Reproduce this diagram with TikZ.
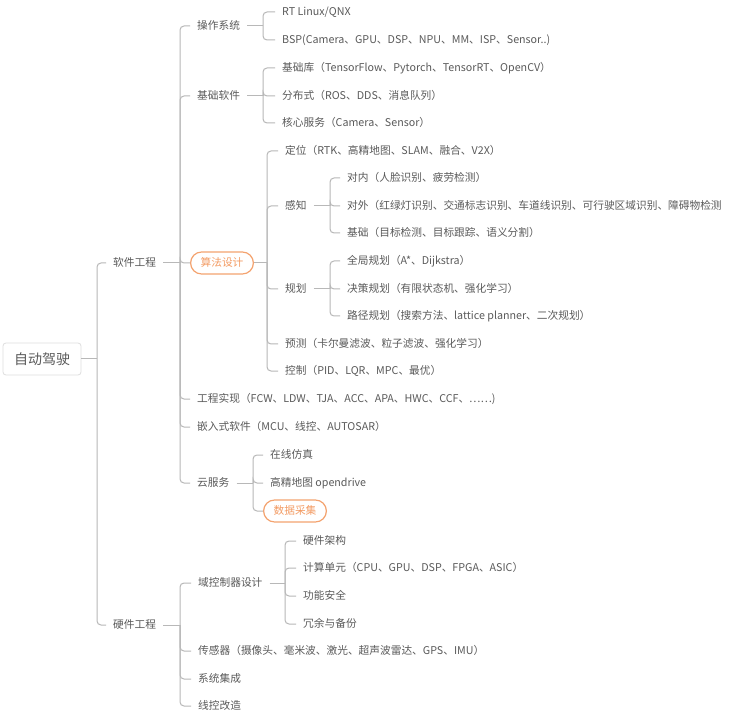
\documentclass[tikz,border=0pt]{standalone}
\usepackage{fontspec}
\setmainfont{Noto Sans CJK SC}
\definecolor{textc}{HTML}{5A5A5A}
\definecolor{linec}{HTML}{B8B8B8}
\definecolor{orangec}{HTML}{F4A36F}
\definecolor{orangetxt}{HTML}{F39B63}
\definecolor{rootline}{HTML}{DEDEDE}
\begin{document}
\begin{tikzpicture}[x=1pt,y=-1pt,
  conn/.style={draw=linec, line width=1pt, rounded corners=4pt},
  txt/.style={anchor=west, inner xsep=7pt, inner ysep=1pt, xshift=-7pt, text=textc,
    font=\fontsize{10.7}{12}\selectfont, text height=9pt, text depth=1.5pt},
  hibox/.style={anchor=west, draw=orangec, line width=1.2pt, rounded corners=11pt, text=orangetxt,
    minimum height=22pt, inner xsep=10pt, inner ysep=0pt,
    font=\fontsize{10.7}{12}\selectfont, text height=9pt, text depth=1.5pt},
  rootbox/.style={draw=rootline, line width=0.8pt, rounded corners=3pt, text=textc,
    minimum width=78pt, minimum height=32pt, inner sep=0pt,
    font=\fontsize{14}{16}\selectfont, text height=12pt, text depth=2pt}]
\fill[white] (0,0) rectangle (737,714);
\useasboundingbox (0,0) rectangle (737,714);

% root and level 1
\node[rootbox] (root) at (42,359) {自动驾驶};
\coordinate (j0) at (97,359);
\node[txt] (sw) at (113,263) {软件工程};
\node[txt] (hw) at (113,625) {硬件工程};
\draw[conn] (root.east) -- (j0);
\draw[conn] (j0) |- (sw.west);
\draw[conn] (j0) |- (hw.west);

% software engineering
\coordinate (jsw) at (180,263);
\node[txt] (os) at (197,26) {操作系统};
\node[txt] (base) at (197,96) {基础软件};
\node[hibox] (algo) at (190,263) {算法设计};
\node[txt] (eng) at (197,399) {工程实现（FCW、LDW、TJA、ACC、APA、HWC、CCF、……)};
\node[txt] (emb) at (197,427) {嵌入式软件（MCU、线控、AUTOSAR）};
\node[txt] (cloud) at (197,483) {云服务};
\draw[conn] (sw.east) -- (jsw);
\foreach \c in {os,base,algo,eng,emb,cloud} \draw[conn] (jsw) |- (\c.west);

% OS
\coordinate (jos) at (263,26);
\node[txt] (rt) at (282,12) {RT Linux/QNX};
\node[txt] (bsp) at (282,40) {BSP(Camera、GPU、DSP、NPU、MM、ISP、Sensor..)};
\draw[conn] (os.east) -- (jos);
\foreach \c in {rt,bsp} \draw[conn] (jos) |- (\c.west);

% base software
\coordinate (jbase) at (263,96);
\node[txt] (lib) at (282,68) {基础库（TensorFlow、Pytorch、TensorRT、OpenCV）};
\node[txt] (dist) at (282,96) {分布式（ROS、DDS、消息队列）};
\node[txt] (core) at (282,123) {核心服务（Camera、Sensor）};
\draw[conn] (base.east) -- (jbase);
\foreach \c in {lib,dist,core} \draw[conn] (jbase) |- (\c.west);

% algorithm design
\coordinate (jalgo) at (267,263);
\node[txt] (loc) at (285,151) {定位（RTK、高精地图、SLAM、融合、V2X）};
\node[txt] (perc) at (285,206) {感知};
\node[txt] (plan) at (285,289) {规划};
\node[txt] (pred) at (285,344) {预测（卡尔曼滤波、粒子滤波、强化学习）};
\node[txt] (ctrl) at (285,371) {控制（PID、LQR、MPC、最优）};
\draw[conn] (algo.east) -- (jalgo);
\foreach \c in {loc,perc,plan,pred,ctrl} \draw[conn] (jalgo) |- (\c.west);

% perception
\coordinate (jperc) at (330,206);
\node[txt] (pin) at (347,178) {对内（人脸识别、疲劳检测）};
\node[txt] (pout) at (347,206) {对外（红绿灯识别、交通标志识别、车道线识别、可行驶区域识别、障碍物检测};
\node[txt] (pbase) at (347,233) {基础（目标检测、目标跟踪、语义分割）};
\draw[conn] (perc.east) -- (jperc);
\foreach \c in {pin,pout,pbase} \draw[conn] (jperc) |- (\c.west);

% planning
\coordinate (jplan) at (330,289);
\node[txt] (pg) at (347,261) {全局规划（A*、Dijkstra）};
\node[txt] (pd) at (347,289) {决策规划（有限状态机、强化学习）};
\node[txt] (pp) at (347,316) {路径规划（搜索方法、lattice planner、二次规划）};
\draw[conn] (plan.east) -- (jplan);
\foreach \c in {pg,pd,pp} \draw[conn] (jplan) |- (\c.west);

% cloud
\coordinate (jcloud) at (253,483);
\node[txt] (sim) at (270,455) {在线仿真};
\node[txt] (hdmap) at (270,483) {高精地图 opendrive};
\node[hibox] (data) at (263,511) {数据采集};
\draw[conn] (cloud.east) -- (jcloud);
\foreach \c in {sim,hdmap,data} \draw[conn] (jcloud) |- (\c.west);

% hardware engineering
\coordinate (jhw) at (180,625);
\node[txt] (dcu) at (198,583) {域控制器设计};
\node[txt] (sens) at (198,651) {传感器（摄像头、毫米波、激光、超声波雷达、GPS、IMU）};
\node[txt] (sys) at (198,679) {系统集成};
\node[txt] (wire) at (198,706) {线控改造};
\draw[conn] (hw.east) -- (jhw);
\foreach \c in {dcu,sens,sys,wire} \draw[conn] (jhw) |- (\c.west);

% domain controller
\coordinate (jdcu) at (285,583);
\node[txt] (arch) at (303,541) {硬件架构};
\node[txt] (cu) at (303,568) {计算单元（CPU、GPU、DSP、FPGA、ASIC）};
\node[txt] (fs) at (303,596) {功能安全};
\node[txt] (red) at (303,624) {冗余与备份};
\draw[conn] (dcu.east) -- (jdcu);
\foreach \c in {arch,cu,fs,red} \draw[conn] (jdcu) |- (\c.west);
\end{tikzpicture}
\end{document}
